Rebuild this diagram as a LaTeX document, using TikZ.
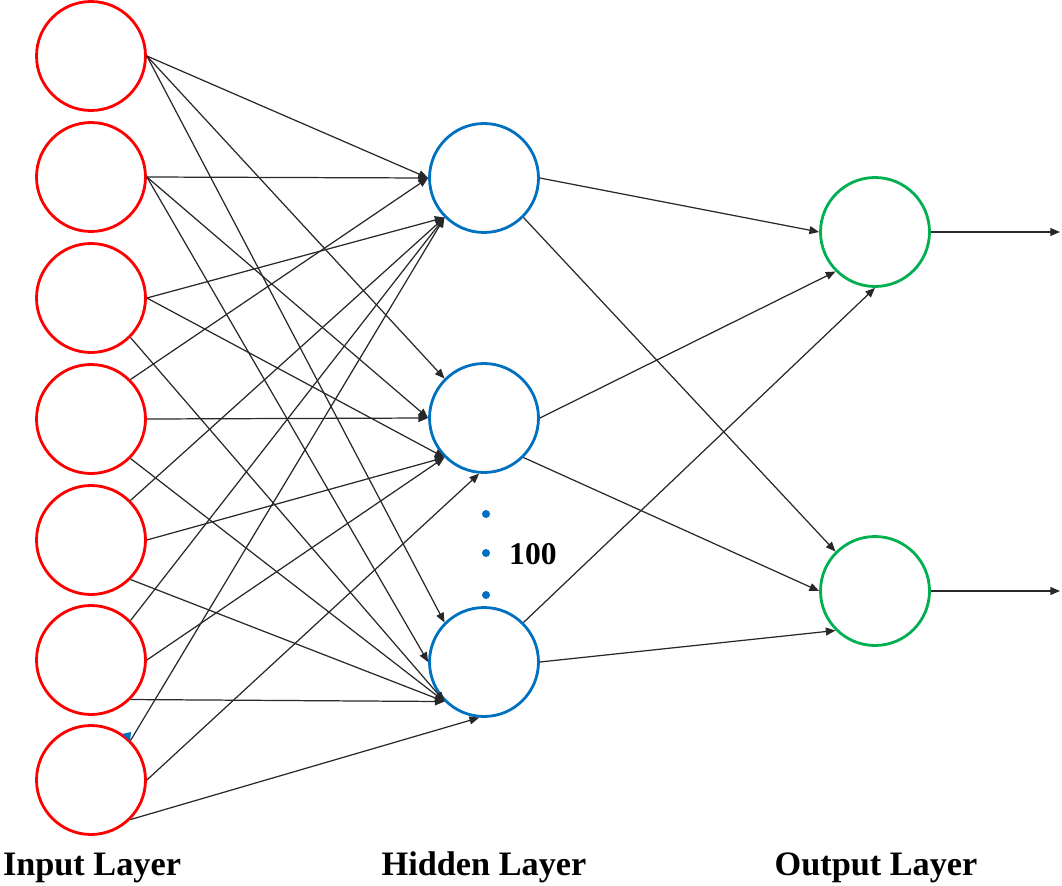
\documentclass[tikz,border=0pt]{standalone}
\usepackage{fontspec}
\setmainfont{Liberation Serif}
\usepackage{tikz}
\usetikzlibrary{arrows.meta}
\definecolor{inred}{RGB}{255, 0, 0}
\definecolor{hidblue}{RGB}{0, 112, 192}
\definecolor{outgreen}{RGB}{0, 176, 80}
\definecolor{wire}{RGB}{40, 40, 40}

\begin{document}
\begin{tikzpicture}[x=0.02cm, y=-0.02cm,
        neuron/.style={circle, minimum size=2.18cm, inner sep=0pt, line width=1.6pt},
        innode/.style={neuron, draw=inred},
        hidnode/.style={neuron, draw=hidblue},
        outnode/.style={neuron, draw=outgreen},
        link/.style={draw=wire, line width=0.7pt, -{Triangle[length=5.5pt, width=4.5pt]}},
        dotnode/.style={circle, fill=hidblue, minimum size=0.16cm, inner sep=0pt},
        layername/.style={anchor=base, font=\fontsize{19.5}{23}\selectfont\bfseries}]
            \useasboundingbox (0, 0) rectangle (1062, 886);
            % input layer
            \node[innode]  (i1) at ( 91,  56) {};
            \node[innode]  (i2) at ( 91, 177) {};
            \node[innode]  (i3) at ( 91, 298) {};
            \node[innode]  (i4) at ( 91, 419) {};
            \node[innode]  (i5) at ( 91, 540) {};
            \node[innode]  (i6) at ( 91, 660) {};
            \node[innode]  (i7) at ( 91, 780) {};
            % hidden layer
            \node[hidnode] (h1) at (484, 178) {};
            \node[hidnode] (h2) at (484, 418) {};
            \node[hidnode] (h3) at (484, 662) {};
            % output layer
            \node[outnode] (o1) at (875, 232) {};
            \node[outnode] (o2) at (875, 591) {};
            \coordinate   (y1) at (1060, 232);
            \coordinate   (y2) at (1060, 591);
            % the 100 hidden units
            \node[dotnode] (d1) at (486, 514) {};
            \node[dotnode] (d2) at (486, 553) {};
            \node[dotnode] (d3) at (486, 595) {};
            \node[anchor=base west, font=\fontsize{18}{22}\selectfont\bfseries] (nh) at (503, 564) {100};
            \fill[hidblue] (122, 734) -- (131, 732) -- (130, 741) -- cycle;
            % input -> hidden
            \draw[link] (i1.east)       -- (h1.west);
            \draw[link] (i1.east)       -- (h2.north west);
            \draw[link] (i1.east)       -- (h3.north west);
            \draw[link] (i2.east)       -- (h1.west);
            \draw[link] (i2.east)       -- (h2.west);
            \draw[link] (i2.east)       -- (h3.west);
            \draw[link] (i3.east)       -- (h1.south west);
            \draw[link] (i3.east)       -- (h2.south west);
            \draw[link] (i3.south east) -- (h3.south west);
            \draw[link] (i4.north east) -- (h1.west);
            \draw[link] (i4.east)       -- (h2.west);
            \draw[link] (i4.south east) -- (h3.south west);
            \draw[link] (i5.north east) -- (h1.south west);
            \draw[link] (i5.east)       -- (h2.south west);
            \draw[link] (i5.south east) -- (h3.south west);
            \draw[link] (i6.north east) -- (h1.south west);
            \draw[link] (i6.east)       -- (h2.south west);
            \draw[link] (i6.south east) -- (h3.south west);
            \draw[link] (i7.north east) -- (h1.south west);
            \draw[link] (i7.east)       -- (h2.265);
            \draw[link] (i7.south east) -- (h3.265);
            % hidden -> output
            \draw[link] (h1.east)       -- (o1.west);
            \draw[link] (h1.south east) -- (o2.north west);
            \draw[link] (h2.east)       -- (o1.south west);
            \draw[link] (h2.south east) -- (o2.west);
            \draw[link] (h3.north east) -- (o1.south);
            \draw[link] (h3.east)       -- (o2.south west);
            \draw[link] (o1.east)       -- (y1);
            \draw[link] (o2.east)       -- (y2);
            % layer names
            \node[layername] (lin)  at ( 92, 875) {Input Layer};
            \node[layername] (lhid) at (484, 875) {Hidden Layer};
            \node[layername] (lout) at (876, 875) {Output Layer};
        \end{tikzpicture}
\end{document}
